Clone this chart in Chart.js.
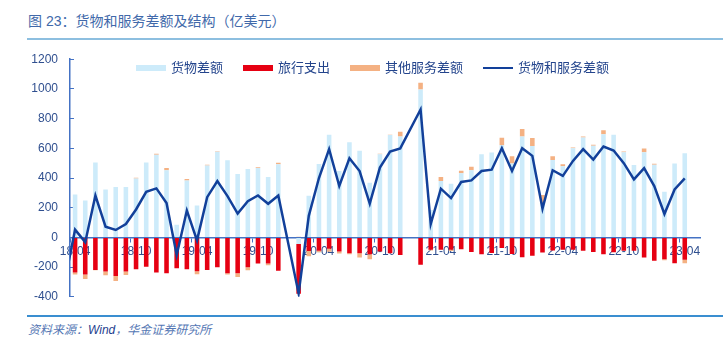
<!DOCTYPE html>
<html>
<head>
<meta charset="utf-8">
<script src="https://cdn.jsdelivr.net/npm/chart.js@4.4.1/dist/chart.umd.min.js"></script>
<style>
  html, body { margin: 0; padding: 0; background: #fff; }
  body {
    width: 723px; height: 350px; position: relative; overflow: hidden;
    font-family: "Liberation Sans", Arial, "Noto Sans CJK SC", sans-serif;
  }
  #title {
    position: absolute; left: 28px; top: 12px;
    font-size: 14px; line-height: 18px; color: #4169AA;
  }
  #title-rule { position: absolute; left: 27px; right: 0; top: 38px; height: 2px; background: #8DBFE0; }
  #wrap { position: absolute; left: 0; top: 36px; width: 723px; height: 284px; }
  #legend {
    position: absolute; left: 136px; top: 60px; display: flex; gap: 20px;
    font-size: 13px; line-height: 16px; color: #23448C; z-index: 2;
  }
  #legend .item { display: flex; align-items: center; gap: 5px; }
  #legend .sw { width: 30px; }
  #foot-rule { position: absolute; left: 27px; right: 0; top: 315px; height: 1.5px; background: #3A8ED0; }
  #source {
    position: absolute; left: 28px; top: 322px;
    font-size: 12px; line-height: 16px; font-style: italic; color: #5577B4;
  }
  #source b { font-weight: normal; color: #1F3F8F; }
</style>
</head>
<body>
<div id="title">图 23：货物和服务差额及结构（亿美元）</div>
<div id="title-rule"></div>
<div id="wrap"><canvas id="chart"></canvas></div>
<div id="legend"></div>
<div id="foot-rule"></div>
<div id="source">资料来源：<b>Wind</b>，华金证券研究所</div>

<script>
// month labels; 18-03 sits just left of the visible range, 23-05 is an empty slot
const months = [
  '18-03','18-04','18-05','18-06','18-07','18-08','18-09','18-10','18-11','18-12',
  '19-01','19-02','19-03','19-04','19-05','19-06','19-07','19-08','19-09','19-10','19-11','19-12',
  '20-01','20-02','20-03','20-04','20-05','20-06','20-07','20-08','20-09','20-10','20-11','20-12',
  '21-01','21-02','21-03','21-04','21-05','21-06','21-07','21-08','21-09','21-10','21-11','21-12',
  '22-01','22-02','22-03','22-04','22-05','22-06','22-07','22-08','22-09','22-10','22-11','22-12',
  '23-01','23-02','23-03','23-04','23-05'
];

// 货物差额
const goods = [
  null, 289, 249, 504, 323, 339, 339, 396, 504, 556,
  452, 86, 384, 215, 484, 576, 520, 427, 461, 468, 407, 493,
  null, -45, 280, 495, 692, 447, 640, 583, 368, 560, 689, 680,
  null, 996, 185, 380, 362, 432, 452, 560, 572, 621, 497, 680,
  615, 226, 522, 479, 601, 673, 617, 694, 692, 574, 488, 574,
  490, 307, 497, 567, null
];

// 旅行支出
const travel = [
  null, -237, -249, -219, -230, -260, -230, -215, -197, -237,
  -242, -208, -215, -228, -219, -201, -242, -242, -201, -176, -176, -224,
  null, -335, -92, -90, -77, -95, -106, -106, -113, -95, -106, -118,
  null, -185, -84, -84, -84, -79, -99, -113, -105, -72, -111, -133,
  -124, -102, -88, -84, -84, -90, -99, -113, -100, -90, -90, -136,
  -158, -147, -174, -151, null
];

// 其他服务差额
const otherServices = [
  null, -12, -31, -3, -25, -34, -23, 5, 0, 8,
  15, 0, 9, -20, 5, 4, -7, -25, -20, 4, -11, 9,
  null, 5, -35, -10, -20, -14, -7, -29, -34, 3, 2, 32,
  null, 45, -5, 27, -8, 16, 23, 0, 0, 50, 50, 50,
  54, 59, 25, 14, 4, 7, 7, 27, 0, 4, 0, 25,
  6, -7, 0, -23, null
];

// 货物和服务差额
const total = [
  -290, 52, -32, 282, 72, 50, 90, 188, 307, 330,
  231, -118, 181, -20, 271, 380, 278, 160, 244, 282, 226, 282,
  null, -377, 145, 400, 594, 346, 533, 447, 228, 470, 578, 599,
  null, 861, 90, 328, 265, 373, 384, 447, 456, 601, 447, 601,
  549, 194, 452, 414, 515, 594, 524, 612, 585, 500, 391, 466,
  346, 158, 323, 398, null
];

const yTicks = [1200, 1000, 800, 600, 400, 200, 0, -200, -400];

const axisColor = '#4472C4';
const tickColor = '#2F4F8F';
const barOpts = { type: 'bar', stack: 'parts', barPercentage: 0.45, categoryPercentage: 1, order: 1 };

const isLabelled = (lbl) => /-(04|10)$/.test(lbl) && lbl !== '18-03';

const chart = new Chart(document.getElementById('chart'), {
  data: {
    labels: months,
    datasets: [
      { ...barOpts, label: '货物差额', data: goods, backgroundColor: '#CDEBFA' },
      { ...barOpts, label: '旅行支出', data: travel, backgroundColor: '#E60012' },
      { ...barOpts, label: '其他服务差额', data: otherServices, backgroundColor: '#F4B183' },
      {
        type: 'line', label: '货物和服务差额', data: total, stack: 'total', order: 0,
        borderColor: '#12409A', borderWidth: 2.5, pointRadius: 0, tension: 0,
        spanGaps: true, fill: false
      }
    ]
  },
  options: {
    responsive: true,
    maintainAspectRatio: false,
    animation: false,
    layout: { padding: { top: 9, bottom: 9, right: 23, left: 0 } },
    plugins: { legend: { display: false }, tooltip: { enabled: false } },
    scales: {
      x: {
        type: 'category',
        min: '18-04',
        position: { y: 0 },
        stacked: true,
        offset: true,
        z: 1,
        border: { color: axisColor, width: 1.5 },
        grid: {
          drawOnChartArea: false,
          offset: true,
          tickLength: 4,
          color: (ctx) => (ctx.tick && isLabelled(months[ctx.tick.value])) ? axisColor : 'rgba(0,0,0,0)'
        },
        ticks: {
          autoSkip: false,
          maxRotation: 0,
          padding: 3,
          color: tickColor,
          font: { family: '"Liberation Sans", Arial, sans-serif', size: 12 },
          callback: function (val) {
            const lbl = this.getLabelForValue(val);
            return isLabelled(lbl) ? lbl : '';
          }
        }
      },
      y: {
        stacked: true,
        min: -400,
        max: 1200,
        afterFit: (scale) => { scale.width = 70; },
        afterBuildTicks: (scale) => { scale.ticks = yTicks.map(v => ({ value: v })); },
        border: { color: axisColor, width: 1.5 },
        grid: { drawOnChartArea: false, tickLength: -4, color: axisColor },
        ticks: {
          padding: 16,
          color: tickColor,
          font: { family: '"Liberation Sans", Arial, sans-serif', size: 12 },
          callback: (v) => String(v)
        }
      }
    }
  }
});

// legend row built from the datasets
const legend = document.getElementById('legend');
chart.data.datasets.forEach(ds => {
  const item = document.createElement('div');
  item.className = 'item';
  const sw = document.createElement('span');
  sw.className = 'sw';
  if (ds.type === 'line') {
    sw.style.height = '2.5px';
    sw.style.background = ds.borderColor;
  } else {
    sw.style.height = '6px';
    sw.style.background = ds.backgroundColor;
  }
  const txt = document.createElement('span');
  txt.textContent = ds.label;
  item.appendChild(sw);
  item.appendChild(txt);
  legend.appendChild(item);
});
</script>
</body>
</html>
